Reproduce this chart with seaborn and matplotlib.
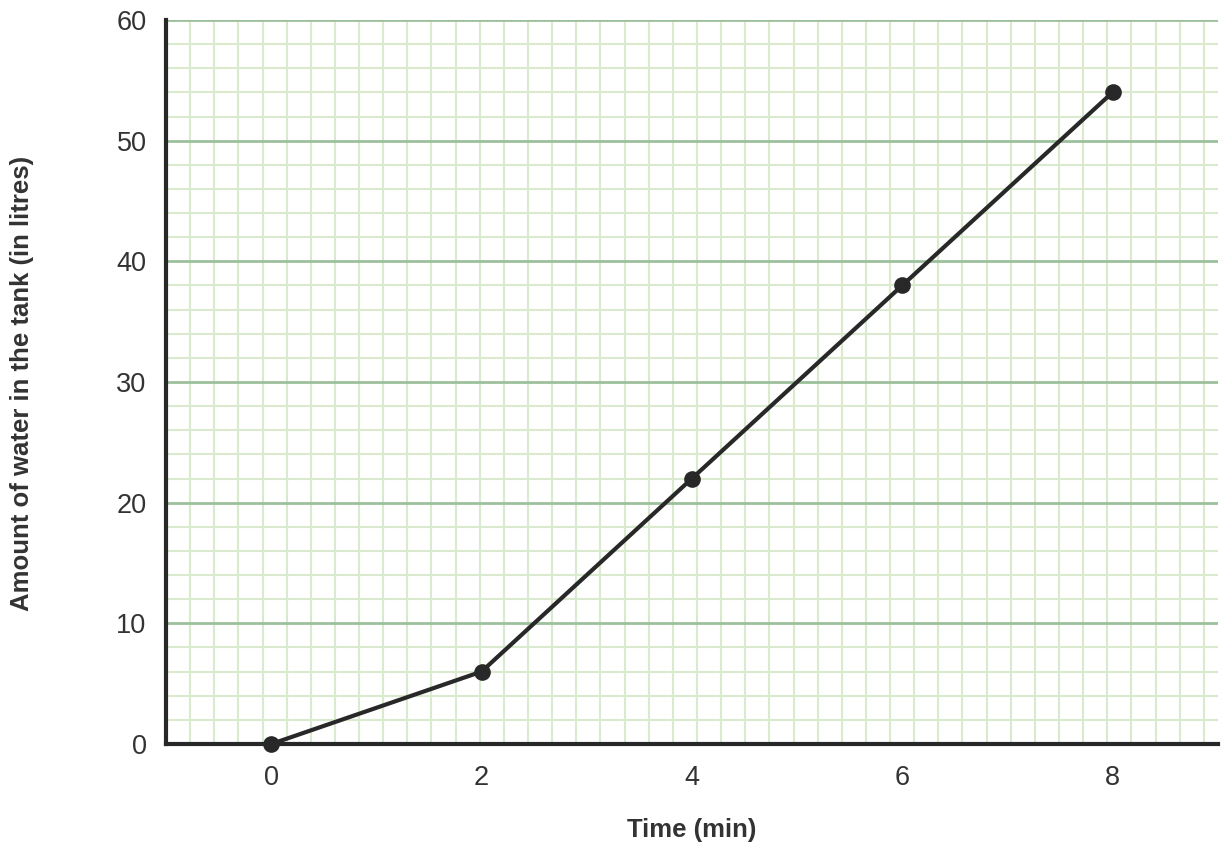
import numpy as np
import pandas as pd
import matplotlib
matplotlib.use("Agg")
import matplotlib.pyplot as plt
from matplotlib.ticker import FixedLocator, MultipleLocator
import seaborn as sns

# data
time_min = [0, 2, 4, 6, 8]
water_litres = [0, 6, 22, 38, 54]
x_ticks = [0, 2, 4, 6, 8]
y_ticks = [0, 10, 20, 30, 40, 50, 60]

df = pd.DataFrame({"Time (min)": time_min, "Water": water_litres})

sns.set_theme(style="white")
plt.rcParams["font.family"] = ["Liberation Sans", "DejaVu Sans"]

fig = plt.figure(figsize=(12.28, 8.55), dpi=100)
ax = fig.add_axes([0.1352, 0.1298, 0.8564, 0.8468])

xmin, xmax = -1, 9
ymin, ymax = 0, 60
ax.set_xlim(xmin, xmax)
ax.set_ylim(ymin, ymax)

# square graph-paper grid: minor cells are 2 litres tall, same pixel width
w_px = 0.8564 * 1228
h_px = 0.8468 * 855
cell_x = 2 * (h_px / (ymax - ymin)) / (w_px / (xmax - xmin))
minor_x = np.arange(xmin, xmax, cell_x)[1:]

ax.xaxis.set_major_locator(FixedLocator(x_ticks))
ax.yaxis.set_major_locator(FixedLocator(y_ticks))
ax.xaxis.set_minor_locator(FixedLocator(minor_x))
ax.yaxis.set_minor_locator(MultipleLocator(2))

ax.grid(which="minor", color="#d9eacf", linewidth=1.5)
ax.grid(which="major", axis="y", color="#9cc09b", linewidth=2.0)
ax.grid(which="major", axis="x", visible=False)
ax.set_axisbelow(True)

sns.lineplot(data=df, x="Time (min)", y="Water", ax=ax, color="#282828",
             linewidth=3, marker="o", markersize=12, markeredgewidth=0,
             clip_on=False, zorder=5)

for side in ["top", "right"]:
    ax.spines[side].set_visible(False)
for side in ["left", "bottom"]:
    ax.spines[side].set_color("#282828")
    ax.spines[side].set_linewidth(3)
    ax.spines[side].set_zorder(4)

ax.tick_params(which="both", length=0)
ax.tick_params(axis="x", labelsize=19.5, labelcolor="#333333", pad=15)
ax.tick_params(axis="y", labelsize=19.5, labelcolor="#333333", pad=14)

ax.set_xlabel("Time (min)", fontsize=18.5, fontweight="bold", color="#333333")
ax.set_ylabel("Amount of water in the tank (in litres)", fontsize=18.5,
              fontweight="bold", color="#333333")
ax.xaxis.label.set_va("center")
ax.yaxis.label.set_va("center")
ax.xaxis.set_label_coords(0.4995, -0.1188)
ax.yaxis.set_label_coords(-0.1369, 0.4985)

fig.savefig("out.png", dpi=100)
